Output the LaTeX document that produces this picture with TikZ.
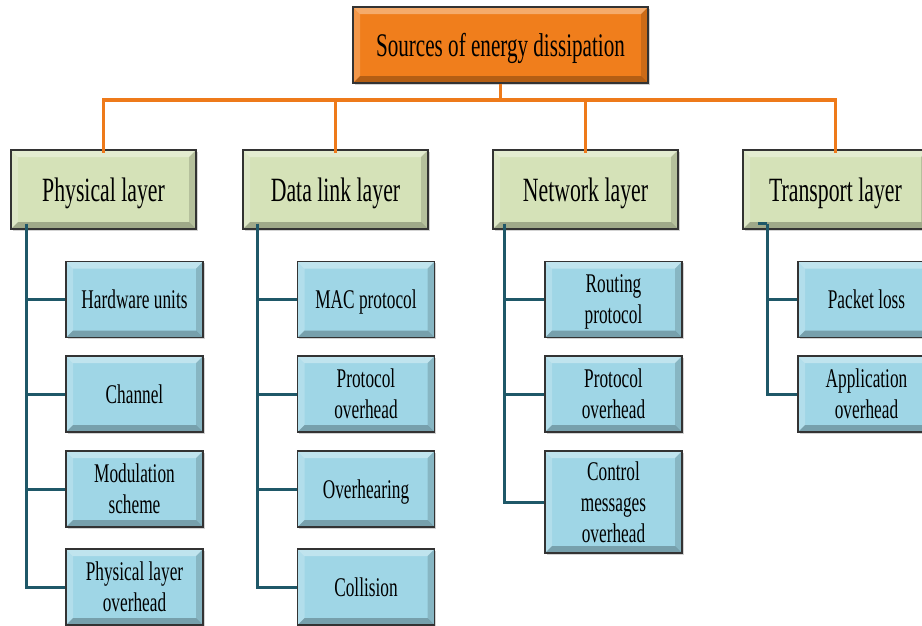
\documentclass[tikz,border=0pt]{standalone}
\usepackage{fontspec}
\setmainfont{Liberation Serif}[FakeStretch=0.64]
\usetikzlibrary{shadows}
\definecolor{rootfill}{HTML}{F07E1C}
\definecolor{layerfill}{HTML}{D5E2B8}
\definecolor{childfill}{HTML}{9FD6E6}
\definecolor{boxline}{HTML}{333333}
\definecolor{orangeline}{HTML}{EE7A1A}
\definecolor{tealline}{HTML}{1F5868}
\tikzset{
  bevel/.style={path picture={
    \fill[white,opacity=0.35] (path picture bounding box.north west) -- (path picture bounding box.north east)
      -- ([shift={(-#1,-#1)}]path picture bounding box.north east) -- ([shift={(#1,-#1)}]path picture bounding box.north west) -- cycle;
    \fill[white,opacity=0.2] (path picture bounding box.north west) -- (path picture bounding box.south west)
      -- ([shift={(#1,#1)}]path picture bounding box.south west) -- ([shift={(#1,-#1)}]path picture bounding box.north west) -- cycle;
    \fill[black,opacity=0.25] (path picture bounding box.south west) -- (path picture bounding box.south east)
      -- ([shift={(-#1,#1)}]path picture bounding box.south east) -- ([shift={(#1,#1)}]path picture bounding box.south west) -- cycle;
    \fill[black,opacity=0.15] (path picture bounding box.north east) -- (path picture bounding box.south east)
      -- ([shift={(-#1,#1)}]path picture bounding box.south east) -- ([shift={(-#1,-#1)}]path picture bounding box.north east) -- cycle;
  }},
  basebox/.style={draw=boxline, line width=1.8pt, inner sep=0pt, align=center, text=black,
    drop shadow={shadow xshift=1.5pt, shadow yshift=-1.5pt, opacity=0.35}, bevel=7pt},
  rootbox/.style={basebox, fill=rootfill, minimum width=295pt, minimum height=76pt,
    font=\fontsize{33}{38}\selectfont, text depth=1pt},
  layerbox/.style={basebox, fill=layerfill, minimum width=185pt, minimum height=79pt,
    font=\fontsize{34}{38}\selectfont, text depth=0pt},
  childbox/.style={basebox, fill=childfill, minimum width=137pt, minimum height=76pt,
    font=\fontsize{27}{31}\selectfont, text depth=-1pt},
  orangelink/.style={draw=orangeline, line width=3.2pt},
  teallink/.style={draw=tealline, line width=3pt},
}
\begin{document}
\begin{tikzpicture}[x=1pt,y=-1pt]
\useasboundingbox (0,0) rectangle (922,625);
\clip (0,0) rectangle (922,625);

\node[rootbox] (root) at (500.5,45) {Sources of energy dissipation};

\node[layerbox] (phys) at (103.5,189.5) {Physical layer};
\node[layerbox] (dll) at (335.5,189.5) {Data link layer};
\node[layerbox] (net) at (585.5,189.5) {Network layer};
\node[layerbox] (trans) at (835.5,189.5) {Transport layer};

% physical children
\node[childbox] (p1) at (134.5,299.5) {Hardware units};
\node[childbox] (p2) at (134.5,394) {Channel};
\node[childbox] (p3) at (134.5,489) {Modulation\\scheme};
\node[childbox] (p4) at (134.5,587) {Physical layer\\overhead};
% data link children
\node[childbox] (d1) at (366,299.5) {MAC protocol};
\node[childbox] (d2) at (366,394) {Protocol\\overhead};
\node[childbox] (d3) at (366,489) {Overhearing};
\node[childbox] (d4) at (366,587) {Collision};
% network children
\node[childbox] (n1) at (613.5,299.5) {Routing\\protocol};
\node[childbox] (n2) at (613.5,394) {Protocol\\overhead};
\node[childbox, minimum height=102pt] (n3) at (613.5,502) {Control\\messages\\overhead};
% transport children
\node[childbox] (t1) at (866.5,299.5) {Packet loss};
\node[childbox] (t2) at (866.5,394) {Application\\overhead};

% orange tree
\coordinate (bus) at (500.5,100);
\draw[orangelink] (root.south) -- (bus);
\draw[orangelink] (bus) -| ([yshift=-4pt]phys.north);
\draw[orangelink] (bus) -| ([yshift=-4pt]dll.north);
\draw[orangelink] (bus) -| ([yshift=-4pt]net.north);
\draw[orangelink] (bus) -| ([yshift=-4pt]trans.north);

% teal connectors
\coordinate (pv) at ([shift={(16pt,6pt)}]phys.south west);
\coordinate (dv) at ([shift={(15pt,6pt)}]dll.south west);
\coordinate (nv) at ([shift={(12pt,6pt)}]net.south west);
\coordinate (tv0) at ([shift={(16pt,6pt)}]trans.south west);
\coordinate (tv) at ([shift={(25pt,6pt)}]trans.south west);
\foreach \c in {p1,p2,p3,p4} \draw[teallink] (pv) |- (\c.west);
\foreach \c in {d1,d2,d3,d4} \draw[teallink] (dv) |- (\c.west);
\foreach \c in {n1,n2,n3} \draw[teallink] (nv) |- (\c.west);
\draw[teallink] (tv0) -- (tv);
\foreach \c in {t1,t2} \draw[teallink] (tv) |- (\c.west);
\end{tikzpicture}
\end{document}
